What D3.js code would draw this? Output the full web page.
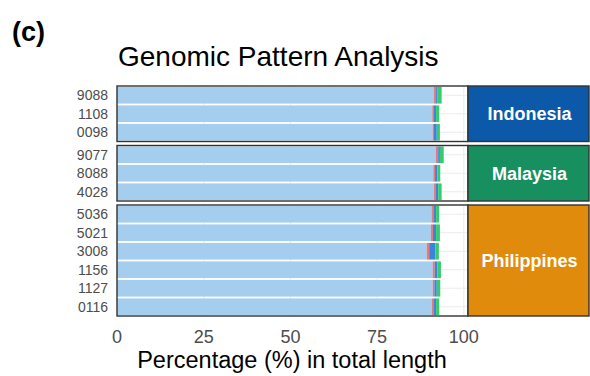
<!DOCTYPE html>
<html>
<head>
<meta charset="utf-8">
<script src="https://cdn.jsdelivr.net/npm/d3@7"></script>
<style>
  body { margin: 0; background: #fff; }
  text { font-family: "Liberation Sans", Arial, sans-serif; }
</style>
</head>
<body>
<div id="chart"></div>
<script>
// data
var samples = ["9088", "1108", "0098", "9077", "8088", "4028",
               "5036", "5021", "3008", "1156", "1127", "0116"];
var countryOf = ["Indonesia", "Indonesia", "Indonesia",
                 "Malaysia", "Malaysia", "Malaysia",
                 "Philippines", "Philippines", "Philippines", "Philippines", "Philippines", "Philippines"];
var countries = ["Indonesia", "Malaysia", "Philippines"];
var countryColors = ["#0b59a8", "#188f5f", "#e08b0b"];

var segA = [91.4, 90.9, 91.0, 91.9, 91.2, 91.4, 90.7, 90.5, 89.3, 91.0, 91.0, 90.8];
var segB = [0.6, 0.5, 0.4, 0.7, 0.5, 0.4, 0.5, 0.6, 0.7, 0.6, 0.5, 0.6];
var segC = [0.3, 0.6, 0.8, 0.5, 0.7, 0.8, 0.8, 0.9, 1.8, 0.8, 0.7, 0.6];
var segD = [1.3, 0.9, 0.9, 1.1, 0.8, 1.0, 0.9, 1.1, 1.0, 1.0, 1.0, 0.9];
var segKeys = ["a", "b", "c", "d"];
var segColors = ["#a5cdee", "#e27b7f", "#3a85d8", "#36cc6c"];

var xTicks = [0, 25, 50, 75, 100];

var svgWidth = 590;
var svgHeight = 376;

var panelLeft = 117;
var panelRight = 468;
var stripRight = 589;
var rowH = 18.5;
var panelGap = 4;
var top0 = 86;

var svg = d3.select("#chart")
  .append("svg")
  .attr("width", svgWidth)
  .attr("height", svgHeight);

var rows = samples.map(function(s, i) {
  return { sample: s, country: countryOf[i], a: segA[i], b: segB[i], c: segC[i], d: segD[i] };
});

var x = d3.scaleLinear()
  .domain([0, 101.2])
  .range([panelLeft, panelRight]);

var stack = d3.stack().keys(segKeys);

// one facet per country
var y0 = top0;
countries.forEach(function(country, ci) {
  var sub = rows.filter(function(r) { return r.country === country; });
  var h = sub.length * rowH;

  var y = d3.scaleBand()
    .domain(sub.map(function(r) { return r.sample; }))
    .range([y0, y0 + h])
    .paddingInner(0.1)
    .paddingOuter(0.05);

  var g = svg.append("g");

  // panel background
  g.append("rect")
    .attr("x", panelLeft).attr("y", y0)
    .attr("width", panelRight - panelLeft).attr("height", h)
    .attr("fill", "#fff");

  // gridlines
  g.selectAll(".vgrid")
    .data(xTicks)
    .enter()
    .append("line")
    .attr("x1", function(d) { return x(d); })
    .attr("x2", function(d) { return x(d); })
    .attr("y1", y0).attr("y2", y0 + h)
    .attr("stroke", "#ebebeb")
    .attr("stroke-width", 1);

  g.selectAll(".hgrid")
    .data(sub)
    .enter()
    .append("line")
    .attr("x1", panelLeft).attr("x2", panelRight)
    .attr("y1", function(d) { return y(d.sample) + y.bandwidth() / 2; })
    .attr("y2", function(d) { return y(d.sample) + y.bandwidth() / 2; })
    .attr("stroke", "#ebebeb")
    .attr("stroke-width", 1.2);

  // stacked bars
  var layers = stack(sub);
  g.selectAll(".layer")
    .data(layers)
    .enter()
    .append("g")
    .attr("fill", function(d, i) { return segColors[i]; })
    .selectAll("rect")
    .data(function(d) { return d; })
    .enter()
    .append("rect")
    .attr("x", function(d) { return x(d[0]); })
    .attr("width", function(d) { return x(d[1]) - x(d[0]); })
    .attr("y", function(d) { return y(d.data.sample); })
    .attr("height", y.bandwidth());

  // y labels
  g.selectAll(".ylab")
    .data(sub)
    .enter()
    .append("text")
    .attr("x", 108)
    .attr("y", function(d) { return y(d.sample) + y.bandwidth() / 2; })
    .attr("dy", "0.36em")
    .attr("text-anchor", "end")
    .attr("font-size", 14)
    .attr("fill", "#4d4d4d")
    .text(function(d) { return d.sample; });

  // panel border
  g.append("rect")
    .attr("x", panelLeft).attr("y", y0)
    .attr("width", panelRight - panelLeft).attr("height", h)
    .attr("fill", "none")
    .attr("stroke", "#333")
    .attr("stroke-width", 1.4);

  // strip
  g.append("rect")
    .attr("x", panelRight).attr("y", y0)
    .attr("width", stripRight - panelRight).attr("height", h)
    .attr("fill", countryColors[ci])
    .attr("stroke", "#333")
    .attr("stroke-width", 1.4);

  g.append("text")
    .attr("x", (panelRight + stripRight) / 2 + 1)
    .attr("y", y0 + h / 2)
    .attr("dy", "0.36em")
    .attr("text-anchor", "middle")
    .attr("font-size", 18)
    .attr("font-weight", "bold")
    .attr("fill", "#fff")
    .text(country);

  y0 += h + panelGap;
});

// x axis tick labels
var axisY = y0 - panelGap;
svg.selectAll(".xtick")
  .data(xTicks)
  .enter()
  .append("text")
  .attr("x", function(d) { return x(d); })
  .attr("y", 343)
  .attr("text-anchor", "middle")
  .attr("font-size", 18)
  .attr("fill", "#4d4d4d")
  .text(function(d) { return d; });

svg.append("text")
  .attr("x", 292)
  .attr("y", 368)
  .attr("text-anchor", "middle")
  .attr("font-size", 23.5)
  .attr("fill", "#000")
  .text("Percentage (%) in total length");

// title
svg.append("text")
  .attr("x", 118)
  .attr("y", 66)
  .attr("font-size", 28)
  .attr("fill", "#000")
  .text("Genomic Pattern Analysis");

svg.append("text")
  .attr("x", 12)
  .attr("y", 41)
  .attr("font-size", 27)
  .attr("font-weight", "bold")
  .attr("fill", "#000")
  .text("(c)");
</script>
</body>
</html>
